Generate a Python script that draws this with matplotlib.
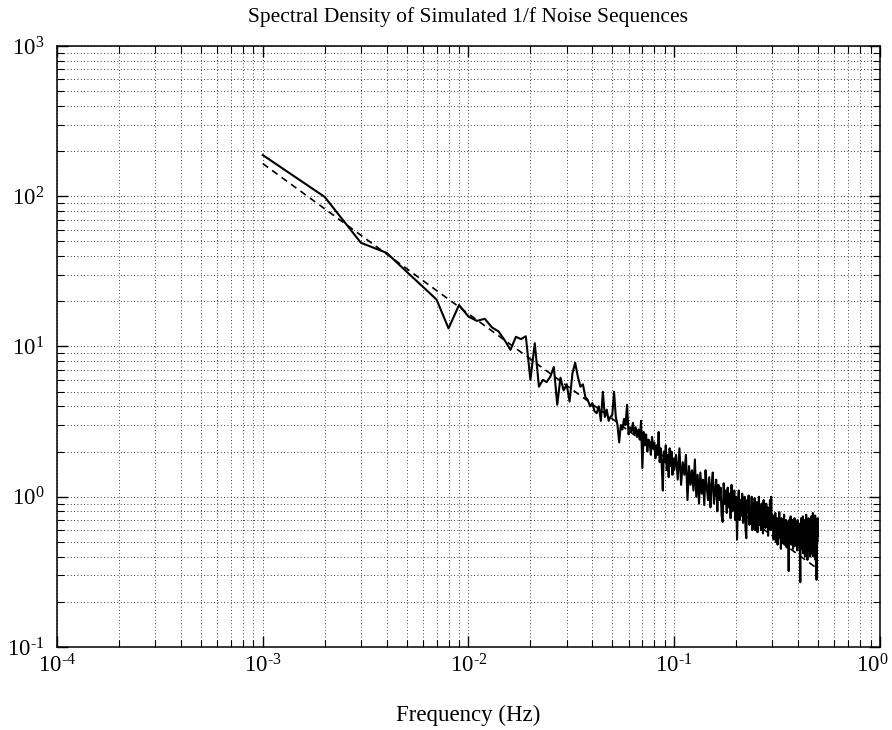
"""
Spectral density of a simulated 1/f noise sequence (periodogram) on log-log axes,
with the ideal 1/f reference drawn dashed.
"""

import numpy as np
import matplotlib
matplotlib.use("Agg")
import matplotlib.pyplot as plt
from matplotlib.ticker import LogLocator, FixedFormatter, NullFormatter
from matplotlib.transforms import ScaledTranslation

# frequency grid: bin index times bin width (1000 samples at 1 Hz)
bin_width = 0.001
bins_low = list(range(1, 101))
bins_high = list(range(102, 501, 2))

# periodogram values, bins 1..100
psd_low = [
    188, 99, 49, 42, 31.5, 25, 20.5, 13.2, 18.9, 15.8,
    14.8, 15.3, 13.4, 12.6, 11.0, 9.5, 11.6, 11.2, 11.7, 6.0,
    10.5, 5.4, 6.0, 5.8, 6.3, 7.3, 4.1, 6.2, 5.1, 5.6,
    4.3, 6.6, 7.8, 6.3, 5.4, 5.6, 4.6, 4.4, 4.0, 4.2,
    3.7, 3.6, 4.0, 3.2, 5.0, 3.4, 3.8, 3.2, 3.4, 3.5,
    5.0, 3.4, 3.0, 2.3, 3.0, 2.8, 3.3, 3.0, 4.1, 2.6,
    2.9, 2.7, 3.1, 2.6, 2.9, 2.5, 2.8, 2.4, 3.2, 1.55,
    2.7, 2.2, 2.6, 2.0, 2.4, 2.3, 1.9, 2.5, 2.1, 2.3,
    1.8, 2.2, 1.9, 2.7, 1.7, 2.1, 1.6, 1.1, 2.0, 1.7,
    2.2, 1.5, 1.9, 1.35, 2.1, 1.6, 2.0, 1.4, 1.8, 1.5,
]

# bins 102..500, every second bin (the band is too dense to read each one)
psd_high = [
    1.9, 1.3, 2.1, 1.2, 1.7, 1.4, 1.9, 0.95, 1.6, 1.2, 1.5, 1.1, 1.77, 1.0, 1.4,
    0.9, 1.45, 1.05, 1.3, 0.88, 1.5, 1.15, 0.95, 1.35, 0.85, 1.2, 1.45, 0.9, 1.1, 1.3,
    0.8, 1.2, 0.95, 1.15, 0.75, 0.68, 1.23, 0.9, 1.1, 0.78,
    1.15, 0.85, 1.05, 0.72, 1.2, 0.8, 0.95, 1.1, 0.7, 1.0,
    0.52, 0.9, 1.1, 0.7, 0.95, 0.75, 1.05, 0.67, 0.88, 1.0,
    0.62, 0.53, 0.95, 0.8, 1.02, 0.65, 0.85, 0.75, 1.0, 0.6,
    0.9, 0.7, 0.98, 0.6, 0.82, 0.92, 0.58, 0.75, 1.0, 0.65,
    0.85, 0.6, 0.9, 0.72, 0.57, 0.95, 0.68, 0.8, 0.62, 0.9,
    0.7, 0.85, 0.55, 0.78, 0.66, 0.95, 0.6, 1.0, 0.7, 0.62,
    0.75, 0.52, 0.7, 0.6, 0.78, 0.5, 0.65, 0.72, 0.48, 0.68,
    0.58, 0.79, 0.53, 0.66, 0.45, 0.72, 0.6, 0.5, 0.7, 0.55,
    0.76, 0.49, 0.64, 0.58, 0.7, 0.46, 0.68, 0.55, 0.62, 0.32,
    0.7, 0.5, 0.62, 0.74, 0.48, 0.6, 0.55, 0.7, 0.45, 0.66,
    0.52, 0.72, 0.47, 0.6, 0.68, 0.5, 0.58, 0.44, 0.7, 0.52,
    0.64, 0.48, 0.66, 0.4, 0.27,
    0.6, 0.72, 0.45, 0.66, 0.5, 0.74, 0.42, 0.62, 0.55, 0.7,
    0.4, 0.64, 0.5, 0.76, 0.45, 0.6, 0.38, 0.68, 0.52, 0.72,
    0.44, 0.58, 0.66, 0.4, 0.7,
    0.48, 0.74, 0.42, 0.62, 0.55, 0.78, 0.4, 0.66, 0.5, 0.7,
    0.45, 0.75, 0.38, 0.6, 0.47, 0.28, 0.68, 0.5, 0.72, 0.55,
]

# dashed 1/f reference, end points
ref_freq = [0.001, 0.5]
ref_psd = [165, 0.33]

x_ticks = [1e-4, 1e-3, 1e-2, 1e-1, 1e0]
x_tick_labels = ["$10^{\u20104}$", "$10^{\u20103}$", "$10^{\u20102}$", "$10^{\u20101}$", "$10^{0}$"]
y_ticks = [1e-1, 1e0, 1e1, 1e2, 1e3]
y_tick_labels = ["$10^{\u20101}$", "$10^{0}$", "$10^{1}$", "$10^{2}$", "$10^{3}$"]

plt.rcParams["font.family"] = "serif"
plt.rcParams["font.serif"] = ["Liberation Serif", "DejaVu Serif"]
plt.rcParams["mathtext.fontset"] = "custom"
plt.rcParams["mathtext.rm"] = "Liberation Serif"
plt.rcParams["mathtext.it"] = "Liberation Serif"
plt.rcParams["mathtext.bf"] = "Liberation Serif"

freq = np.concatenate([np.array(bins_low), np.array(bins_high)]) * bin_width
psd = np.array(psd_low + psd_high)

fig = plt.figure(figsize=(8.92, 7.30), dpi=100)
ax = fig.add_axes([0.0639, 0.1137, 0.9226, 0.8233])

ax.loglog(freq, psd, "-", color="black", lw=1.5, zorder=3)
ax.loglog(ref_freq, ref_psd, "--", color="black", lw=1.2, dashes=(4, 3), zorder=3)

ax.set_xlim(1e-4, 1e0)
ax.set_ylim(1e-1, 1e3)

ax.xaxis.set_minor_locator(LogLocator(base=10, subs=np.arange(2, 10), numticks=20))
ax.yaxis.set_minor_locator(LogLocator(base=10, subs=np.arange(2, 10), numticks=20))
ax.set_xticks(x_ticks)
ax.set_yticks(y_ticks)
ax.xaxis.set_major_formatter(FixedFormatter(x_tick_labels))
ax.yaxis.set_major_formatter(FixedFormatter(y_tick_labels))
ax.xaxis.set_minor_formatter(NullFormatter())
ax.yaxis.set_minor_formatter(NullFormatter())

ax.grid(True, which="both", color="black", lw=0.6, linestyle=(0, (1, 3)))
ax.tick_params(which="both", direction="in", top=True, right=True, color="black")
ax.tick_params(which="major", length=8, width=1.0)
ax.tick_params(which="minor", length=5, width=0.8)
ax.tick_params(axis="x", which="major", labelsize=16.5, pad=5)
ax.tick_params(axis="y", which="major", labelsize=16.5, pad=9)
for sp in ax.spines.values():
    sp.set_linewidth(1.1)

# keep the last x label inside the figure
last = ax.get_xticklabels()[-1]
last.set_transform(last.get_transform() + ScaledTranslation(-8 / 100, 0, fig.dpi_scale_trans))

ax.set_title("Spectral Density of Simulated 1/f Noise Sequences", fontsize=15.5, pad=17)
ax.set_xlabel("Frequency (Hz)", fontsize=16.5, labelpad=20)

fig.savefig("out.png", dpi=100)
